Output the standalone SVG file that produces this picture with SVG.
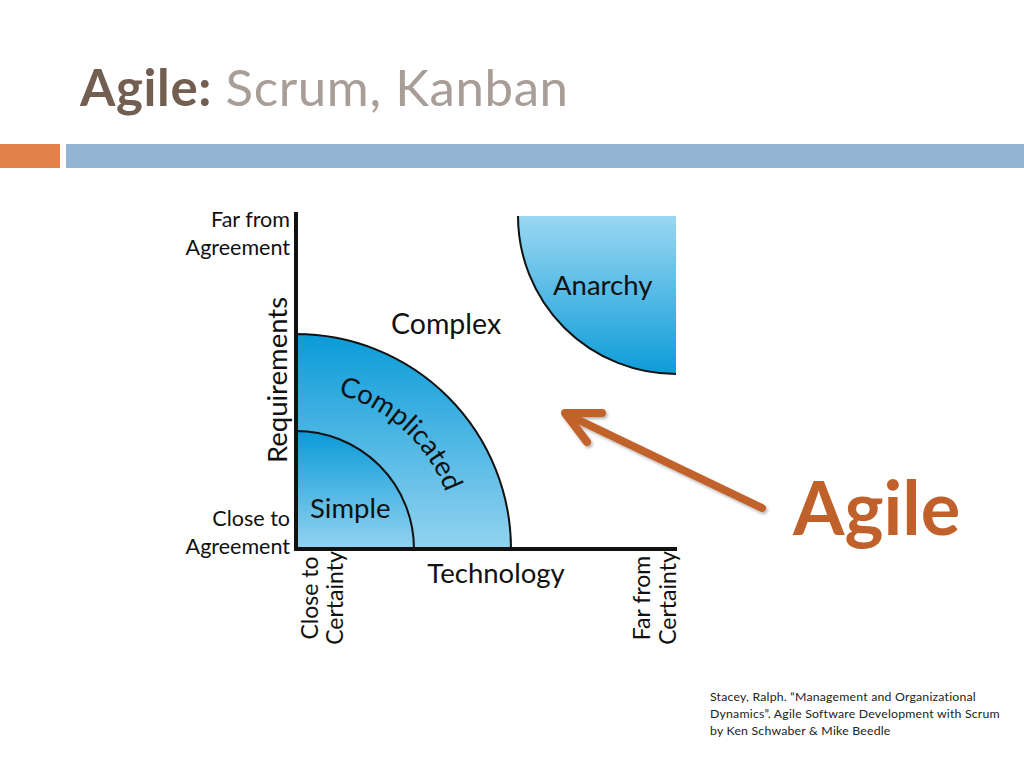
<svg xmlns="http://www.w3.org/2000/svg" width="1024" height="768" viewBox="0 0 1024 768">
<style>
.lbl{font-family:Lato,"Open Sans","Liberation Sans",sans-serif;fill:#111;}
.s20{font-size:21.5px;}
.sv{font-size:23px;}
.s24{font-size:27.5px;}
.edge{stroke:#111;stroke-width:2;}
</style>
<defs>
<linearGradient id="gDown" x1="0" y1="0" x2="0" y2="1">
<stop offset="0" stop-color="#0a9bd8"/>
<stop offset="1" stop-color="#93d3f0"/>
</linearGradient>
<linearGradient id="gUp" x1="0" y1="0" x2="0" y2="1">
<stop offset="0" stop-color="#9ad7f2"/>
<stop offset="1" stop-color="#0d9cd8"/>
</linearGradient>
<filter id="sh" x="-10%" y="-10%" width="130%" height="130%">
<feDropShadow dx="1.5" dy="2" stdDeviation="1.5" flood-color="#000" flood-opacity="0.3"/>
</filter>
<path id="arcC" d="M 324 391.4 A 160 160 0 0 1 453.6 521.2" fill="none"/>
</defs>
<rect width="1024" height="768" fill="#fff"/>
<g id="title">
<text x="80" y="106" font-family="Lato,'Liberation Sans',sans-serif" font-size="51" font-weight="bold" fill="#735e52" letter-spacing="0.6">Agile:<tspan font-weight="normal" fill="#a89d97"> Scrum, Kanban</tspan></text>
</g>
<g id="titlebar">
<rect x="0" y="144" width="60" height="24" fill="#e0824a"/>
<rect x="66" y="144" width="958" height="24" fill="#93b4d3"/>
</g>
<g id="complicated">
<path d="M296 549 L296 334 A215 215 0 0 1 511 549 Z" fill="url(#gDown)" class="edge"/>
<text class="lbl s24"><textPath href="#arcC" startOffset="46%" text-anchor="middle">Complicated</textPath></text>
</g>
<g id="simple">
<path d="M296 549 L296 431 A118 118 0 0 1 414 549 Z" fill="url(#gDown)" class="edge"/>
<text x="310" y="518" class="lbl s24">Simple</text>
</g>
<g id="anarchy">
<path d="M676 216 L518 216 A158 158 0 0 0 676 374 Z" fill="url(#gUp)"/>
<path d="M518 216 A158 158 0 0 0 676 374" fill="none" class="edge"/>
<text x="553" y="295" class="lbl s24">Anarchy</text>
</g>
<g id="complex">
<text x="391" y="334" class="lbl" font-size="28.5">Complex</text>
</g>
<g id="axes">
<line x1="296" y1="212" x2="296" y2="551" stroke="#111" stroke-width="4"/>
<line x1="294" y1="549" x2="677" y2="549" stroke="#111" stroke-width="4"/>
<text x="290" y="227" text-anchor="end" class="lbl s20">Far from</text>
<text x="290" y="255" text-anchor="end" class="lbl s20">Agreement</text>
<text x="290" y="526" text-anchor="end" class="lbl s20">Close to</text>
<text x="290" y="554" text-anchor="end" class="lbl s20">Agreement</text>
<text transform="translate(287,380) rotate(-90)" text-anchor="middle" class="lbl s24">Requirements</text>
<text x="496" y="583" text-anchor="middle" class="lbl s24">Technology</text>
<text transform="translate(318,598) rotate(-90)" text-anchor="middle" class="lbl sv">Close to</text>
<text transform="translate(343,598) rotate(-90)" text-anchor="middle" class="lbl sv">Certainty</text>
<text transform="translate(650,598) rotate(-90)" text-anchor="middle" class="lbl sv">Far from</text>
<text transform="translate(676,598) rotate(-90)" text-anchor="middle" class="lbl sv">Certainty</text>
</g>
<g id="connectors">
<g filter="url(#sh)" stroke="#c0622a" stroke-width="8" stroke-linecap="round" stroke-linejoin="round" fill="none">
<line x1="762" y1="508" x2="566" y2="414"/>
<polyline points="602,413 565,413 587,442"/>
</g>
</g>
<g id="agile">
<text x="793" y="535" font-family="Lato,'Liberation Sans',sans-serif" font-size="74" font-weight="bold" fill="#c0612b">Agile</text>
</g>
<g id="citation" font-family="Lato,'Liberation Sans',sans-serif" font-size="12.3" fill="#222" letter-spacing="0.2">
<text x="710" y="701">Stacey, Ralph. “Management and Organizational</text>
<text x="710" y="718">Dynamics”. Agile Software Development with Scrum</text>
<text x="710" y="735">by Ken Schwaber &amp; Mike Beedle</text>
</g>
</svg>
